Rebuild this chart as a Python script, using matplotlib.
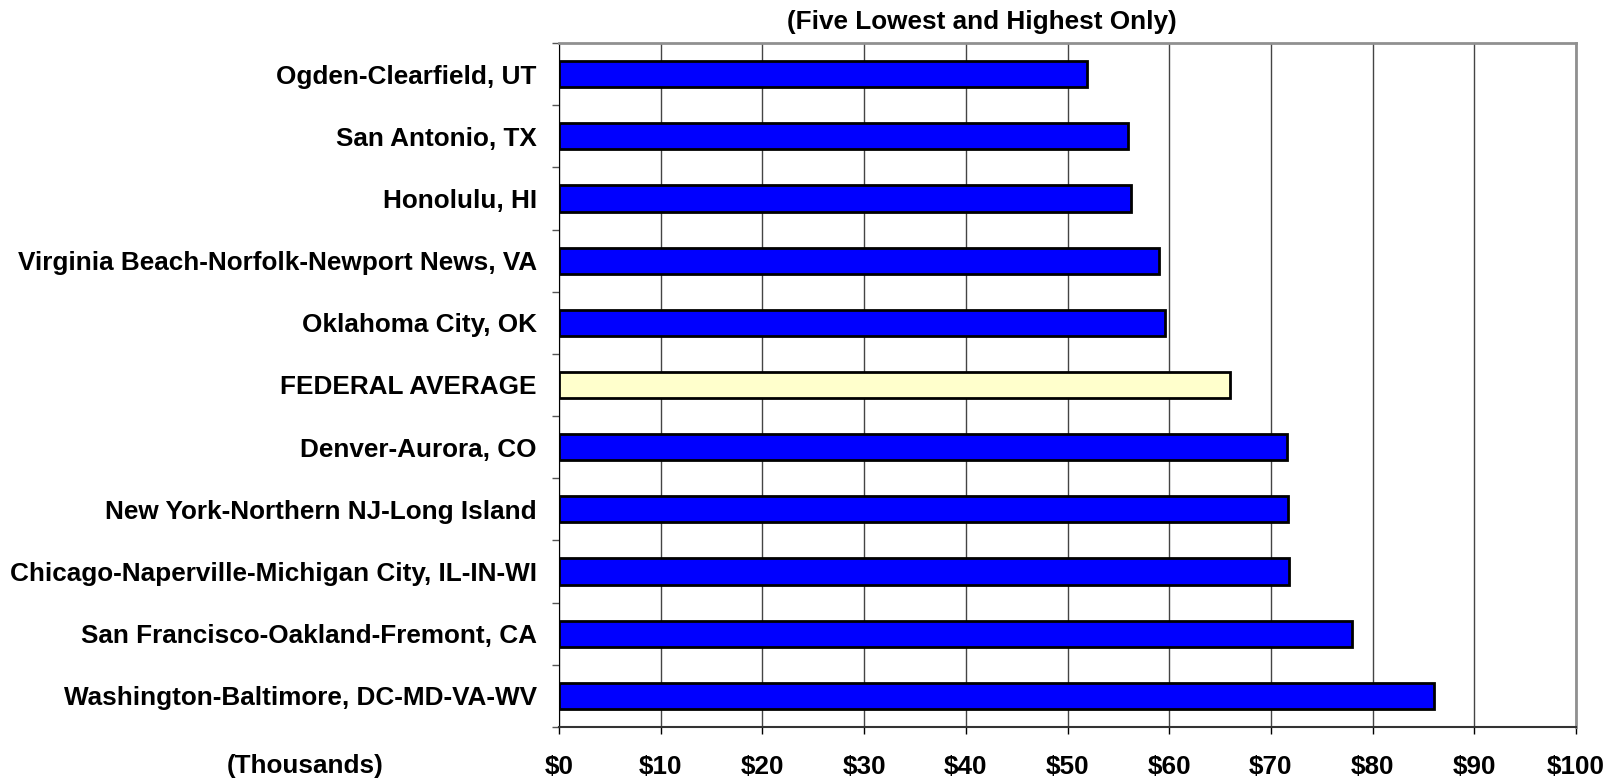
import matplotlib.pyplot as plt
import numpy as np

# metro areas, top to bottom
areas = [
    "Ogden-Clearfield, UT",
    "San Antonio, TX",
    "Honolulu, HI",
    "Virginia Beach-Norfolk-Newport News, VA",
    "Oklahoma City, OK",
    "FEDERAL AVERAGE",
    "Denver-Aurora, CO",
    "New York-Northern NJ-Long Island",
    "Chicago-Naperville-Michigan City, IL-IN-WI",
    "San Francisco-Oakland-Fremont, CA",
    "Washington-Baltimore, DC-MD-VA-WV",
]
pay = [51.9, 55.9, 56.2, 59.0, 59.6, 66.0, 71.6, 71.7, 71.8, 78.0, 86.0]  # thousands
xticks = [0, 10, 20, 30, 40, 50, 60, 70, 80, 90, 100]

plt.rcParams['font.family'] = ['Liberation Sans', 'DejaVu Sans']
plt.rcParams['font.weight'] = 'bold'
fs = 18.8

fig = plt.figure(figsize=(16.12, 7.81), dpi=100)
ax = fig.add_axes([559 / 1612, 1 - 727 / 781, (1576 - 559) / 1612, (727 - 43) / 781])

y = np.arange(len(areas))
colors = ['#ffffcc' if a == "FEDERAL AVERAGE" else '#0000ff' for a in areas]
ax.barh(y, pay, height=0.42, color=colors, edgecolor='black', linewidth=2, zorder=3)

ax.set_ylim(len(areas) - 0.5, -0.5)
ax.set_xlim(0, 100)
ax.set_xticks(xticks)
ax.set_xticklabels([f"${v}" for v in xticks], fontsize=fs, fontweight='bold')
ax.set_yticks(y)
ax.set_yticklabels(areas, fontsize=fs, fontweight='bold')
ax.tick_params(axis='y', length=0, pad=16)
ax.set_yticks(np.arange(-0.5, len(areas), 1), minor=True)
ax.tick_params(axis='y', which='minor', length=5, width=1, direction='out', color='#555555')
ax.tick_params(axis='x', length=5, width=1, direction='out', pad=15, color='black')

ax.grid(axis='x', color='#444444', linewidth=1, zorder=0)
for s in ['top', 'right']:
    ax.spines[s].set_color('#909090')
    ax.spines[s].set_linewidth(2)
ax.spines['left'].set_color('black')
ax.spines['bottom'].set_color('#333333')
ax.spines['bottom'].set_linewidth(1.5)

fig.text(982 / 1612, 1 - 22 / 781, "(Five Lowest and Highest Only)", ha='center', va='center',
         fontsize=fs, fontweight='bold')
fig.text(305 / 1612, 1 - 766 / 781, "(Thousands)", ha='center', va='center',
         fontsize=fs, fontweight='bold')

fig.savefig("out.png", dpi=100)
